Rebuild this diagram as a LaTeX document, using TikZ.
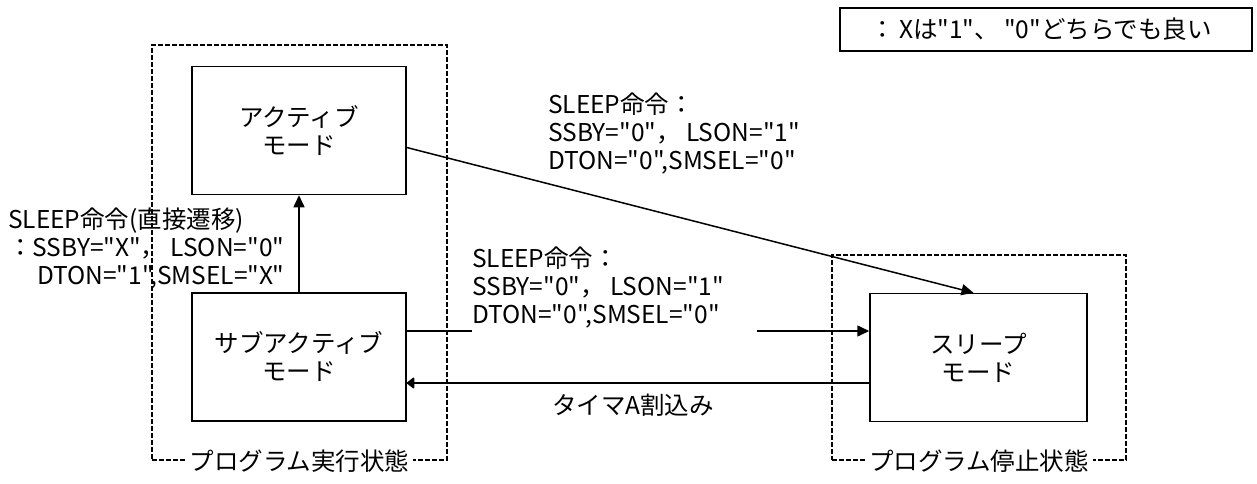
\documentclass[tikz,border=0pt]{standalone}
\usepackage{fontspec}
\setmainfont{Noto Sans CJK JP}[Ligatures=TeXOff]
\usetikzlibrary{arrows.meta, positioning}

\begin{document}
\begin{tikzpicture}[
		x=1pt, y=-1pt,
		every node/.style={font=\fontsize{24.5pt}{28pt}\selectfont},
		modebox/.style={draw, line width=1.5pt, minimum width=214pt,
			minimum height=128pt, align=center},
		statebox/.style={draw, line width=1.5pt, dash pattern=on 5pt off 2pt},
		statelabel/.style={fill=white, inner sep=4pt},
		cond/.style={align=left, inner sep=0pt, anchor=north west},
		arrow/.style={-{Triangle[length=12pt, width=11pt]}, line width=1.5pt},
		backarrow/.style={-{Triangle[length=8pt, width=12pt, round]}, line width=1.5pt}
	]
		\useasboundingbox (0,0) rectangle (1257,484);
		% state frames
		\node[statebox, minimum width=295pt, minimum height=415pt] (runstate) at (299.5,252.5) {};
		\node[statebox, minimum width=294pt, minimum height=205pt] (stopstate) at (979,357.5) {};
		\node[statelabel] (runlabel) at (runstate.south) {プログラム実行状態};
		\node[statelabel] (stoplabel) at (stopstate.south) {プログラム停止状態};
		% modes
		\node[modebox] (active) at (299,130.5) {アクティブ\\モード};
		\node[modebox] (subactive) at (299,357) {サブアクティブ\\モード};
		\node[modebox, minimum width=217pt] (sleep) at (978.5,357.5) {スリープ\\モード};
		% legend
		\node[draw, line width=1.5pt, minimum width=412pt, minimum height=43pt] (legend) at (1046,29.5) {};
		\node[anchor=west, inner sep=0pt] (legendtext) at ([xshift=31pt]legend.west) {：\,Xは"1"、\ "0"どちらでも良い};
		% transitions
		\draw[arrow] (subactive) -- (active);
		\draw[arrow] ([yshift=-17pt]active.east) -- ([xshift=-5pt]sleep.north);
		\coordinate (gapL) at (472,331);
		\coordinate (gapR) at (757,331);
		\draw[line width=1.5pt] (subactive.east |- gapL) -- (gapL);
		\draw[arrow] (gapR) -- (sleep.west |- gapR);
		\coordinate (back) at (640,383);
		\draw[backarrow] (sleep.west |- back) -- (subactive.east |- back);
		% conditions
		\node[cond] (toplabel) at (548,93) {SLEEP命令：\\SSBY="0"，\ LSON="1"\\DTON="0",SMSEL="0"};
		\node[cond] (midlabel) at (472,247) {SLEEP命令：\\SSBY="0"，\ LSON="1"\\DTON="0",SMSEL="0"};
		\node[cond] (leftlabel) at (8,208) {SLEEP命令(直接遷移)\\：SSBY="X"，\ LSON="0"\\\hspace{29pt}DTON="1",SMSEL="X"};
		\node (timer) at (633,405) {タイマA割込み};
	\end{tikzpicture}
\end{document}
